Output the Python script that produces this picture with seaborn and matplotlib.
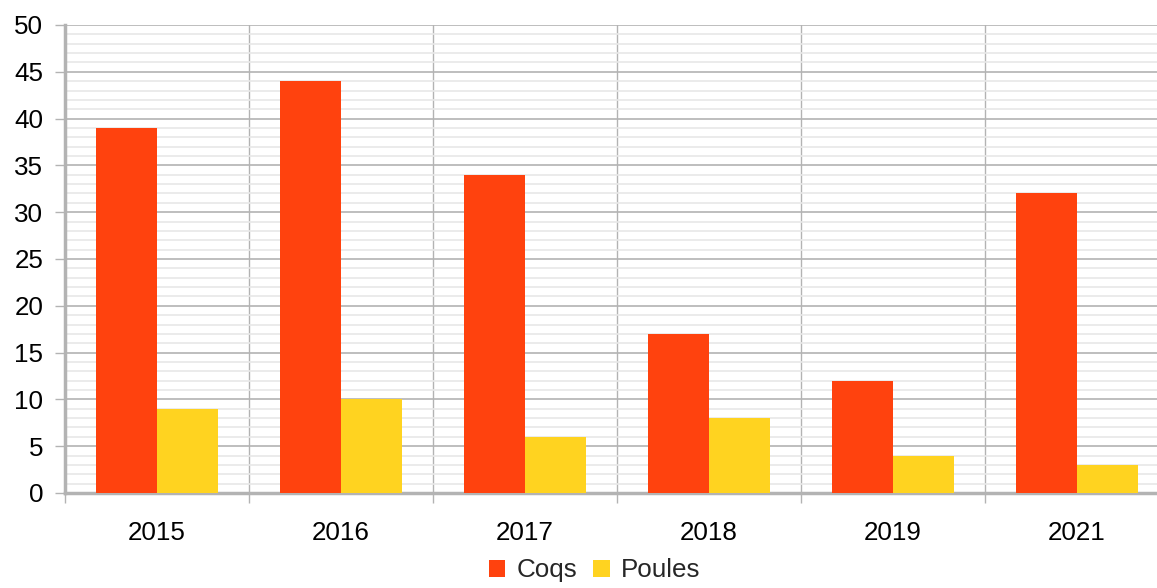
import matplotlib
matplotlib.use("Agg")
import matplotlib.pyplot as plt
import seaborn as sns
import pandas as pd
import numpy as np
from matplotlib.patches import Patch

years = ["2015", "2016", "2017", "2018", "2019", "2021"]
coqs = [39, 44, 34, 17, 12, 32]
poules = [9, 10, 6, 8, 4, 3]
series_names = ["Coqs", "Poules"]
colors = ["#ff420e", "#ffd320"]

df = pd.DataFrame({
    "year": years * 2,
    "value": coqs + poules,
    "series": [series_names[0]] * len(years) + [series_names[1]] * len(years),
})

sns.set_style("white")
plt.rcParams["font.family"] = ["Liberation Sans", "DejaVu Sans"]

DPI = 100
fig = plt.figure(figsize=(11.57, 5.88), dpi=DPI)
ax = fig.add_axes([65 / 1157, 95 / 588, 1104 / 1157, 468 / 588])

sns.barplot(data=df, x="year", y="value", hue="series", palette=colors,
            width=2 / 3, gap=0, dodge=True, ax=ax, legend=False,
            saturation=1, edgecolor="none", linewidth=0, zorder=3)

ax.set_xlim(-0.5, len(years) - 0.5)
ax.set_ylim(0, 50)
ax.set_xlabel("")
ax.set_ylabel("")

# grid
ax.set_yticks(np.arange(0, 51, 5))
ax.set_yticks(np.arange(0, 51, 1), minor=True)
ax.set_xticks(np.arange(len(years)))
ax.set_xticks(np.arange(len(years) + 1) - 0.5, minor=True)
ax.set_xticklabels(years)
ax.grid(axis="y", which="major", color="#b3b3b3", linewidth=1.2, zorder=0)
ax.grid(axis="y", which="minor", color="#e8e8e8", linewidth=1.2, zorder=0)
ax.grid(axis="x", which="minor", color="#b3b3b3", linewidth=1.0, zorder=0)
ax.grid(axis="x", which="major", visible=False)
ax.set_axisbelow(True)

for s in ["top", "right"]:
    ax.spines[s].set_visible(False)
for s in ["left", "bottom"]:
    ax.spines[s].set_visible(True)
    ax.spines[s].set_color("#b3b3b3")
    ax.spines[s].set_linewidth(2.5)

fs = 18.7
ax.tick_params(axis="y", which="major", length=7.2, width=1, color="#b3b3b3",
               pad=8.5, labelsize=fs, left=True, labelcolor="black")
ax.tick_params(axis="y", which="minor", length=0)
ax.tick_params(axis="x", which="major", length=0, pad=20, labelsize=fs, labelcolor="black")
ax.tick_params(axis="x", which="minor", length=7.2, width=1, color="#b3b3b3", bottom=True)

handles = [Patch(facecolor=c, edgecolor="none") for c in colors]
fig.legend(handles, series_names, loc="lower center", ncol=2,
           bbox_to_anchor=(595 / 1157, -0.008), frameon=False, fontsize=fs,
           handlelength=0.62, handleheight=0.62, handletextpad=0.45,
           columnspacing=0.6, borderaxespad=0)

fig.savefig("out.png", dpi=DPI)
